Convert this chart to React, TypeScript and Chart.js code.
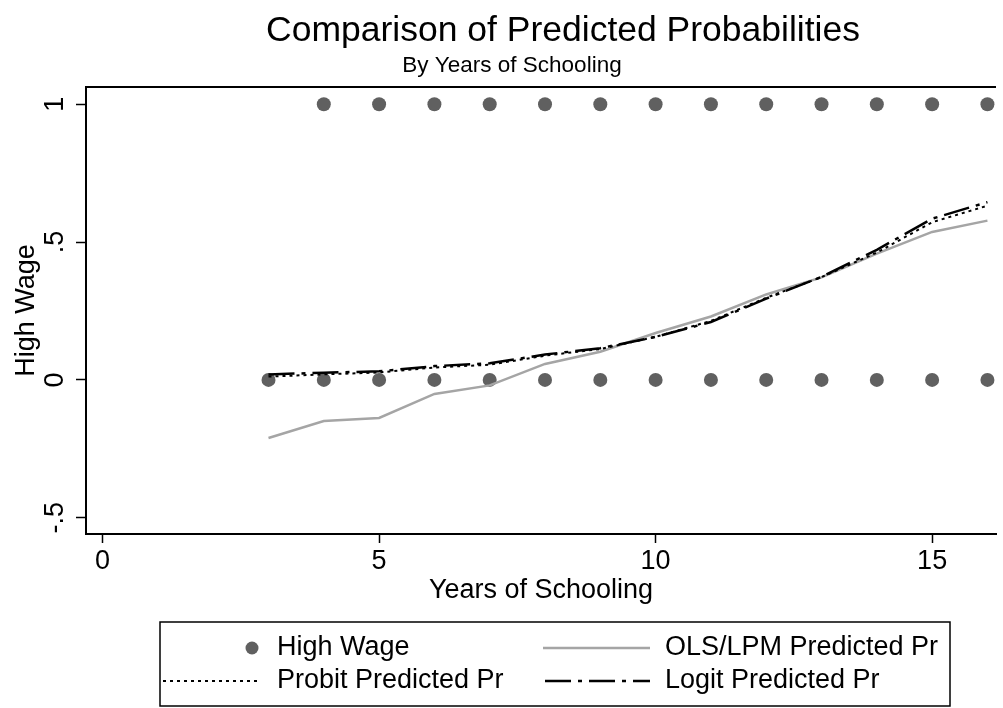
import React, { useEffect, useRef } from "react";
import { Chart, registerables } from "chart.js";

Chart.register(...registerables);

// ---------------- data ----------------
const schoolingYears = [3, 4, 5, 6, 7, 8, 9, 10, 11, 12, 13, 14, 15, 16];
const highWageOneYears = [4, 5, 6, 7, 8, 9, 10, 11, 12, 13, 14, 15, 16];
const highWageZeroYears = [3, 4, 5, 6, 7, 8, 9, 10, 11, 12, 13, 14, 15, 16];
const olsPredicted = [-0.211, -0.149, -0.138, -0.051, -0.02, 0.058, 0.102, 0.17, 0.23, 0.31, 0.372, 0.458, 0.537, 0.578];
const probitPredicted = [0.012, 0.02, 0.027, 0.045, 0.055, 0.088, 0.112, 0.156, 0.214, 0.298, 0.373, 0.462, 0.572, 0.632];
const logitPredicted = [0.02, 0.026, 0.031, 0.05, 0.06, 0.092, 0.115, 0.156, 0.21, 0.295, 0.374, 0.472, 0.585, 0.645];

const xTickValues = [0, 5, 10, 15];
const xTickLabels = ["0", "5", "10", "15"];
const yTickValues = [-0.5, 0, 0.5, 1];
const yTickLabels = ["-.5", "0", ".5", "1"];

const titleText = "Comparison of Predicted Probabilities";
const subtitleText = "By Years of Schooling";
const xAxisTitle = "Years of Schooling";
const yAxisTitle = "High Wage";
const seriesNames = ["High Wage", "OLS/LPM Predicted Pr", "Probit Predicted Pr", "Logit Predicted Pr"];

// ---------------- styles ----------------
const FONT = "'Liberation Sans', Arial, Helvetica, sans-serif";
const AXIS_FONT_SIZE = 27;
const DOT_COLOR = "rgb(96,96,96)";
const OLS_COLOR = "rgb(165,165,165)";
const PROBIT_DASH = [3, 4];
const LOGIT_DASH = [26, 7, 4, 7];

const W = 1003;
const H = 708;

const decorPlugin = {
  id: "decor",
  afterDraw(chart: any) {
    const ctx = chart.ctx as CanvasRenderingContext2D;
    const area = chart.chartArea;
    ctx.save();
    // top frame line
    ctx.strokeStyle = "#000";
    ctx.lineWidth = 2;
    ctx.beginPath();
    ctx.moveTo(area.left - 1, area.top);
    ctx.lineTo(area.right, area.top);
    ctx.stroke();

    // title & subtitle
    ctx.fillStyle = "#000";
    ctx.textAlign = "center";
    ctx.textBaseline = "alphabetic";
    ctx.font = `35.5px ${FONT}`;
    ctx.fillText(titleText, 563, 41);
    ctx.font = `22.5px ${FONT}`;
    ctx.fillText(subtitleText, 512, 72);

    // legend
    const bx = 160, by = 622, bw = 790, bh = 84;
    ctx.lineWidth = 1.5;
    ctx.strokeStyle = "#000";
    ctx.strokeRect(bx, by, bw, bh);
    const row1 = 648;
    const row2 = 681;
    const textX1 = 277;
    const textX2 = 665;
    // dot
    ctx.fillStyle = DOT_COLOR;
    ctx.beginPath();
    ctx.arc(252, row1, 6.5, 0, Math.PI * 2);
    ctx.fill();
    // ols line
    ctx.strokeStyle = OLS_COLOR;
    ctx.lineWidth = 2.5;
    ctx.setLineDash([]);
    ctx.beginPath();
    ctx.moveTo(543, row1);
    ctx.lineTo(650, row1);
    ctx.stroke();
    // probit
    ctx.strokeStyle = "#000";
    ctx.lineWidth = 2;
    ctx.setLineDash(PROBIT_DASH);
    ctx.beginPath();
    ctx.moveTo(163, row2);
    ctx.lineTo(257, row2);
    ctx.stroke();
    // logit
    ctx.setLineDash(LOGIT_DASH);
    ctx.lineWidth = 2.5;
    ctx.beginPath();
    ctx.moveTo(545, row2);
    ctx.lineTo(650, row2);
    ctx.stroke();
    ctx.setLineDash([]);

    ctx.fillStyle = "#000";
    ctx.textAlign = "left";
    ctx.textBaseline = "middle";
    ctx.font = `${AXIS_FONT_SIZE}px ${FONT}`;
    ctx.fillText(seriesNames[0], textX1, row1);
    ctx.fillText(seriesNames[1], textX2, row1);
    ctx.fillText(seriesNames[2], textX1, row2);
    ctx.fillText(seriesNames[3], textX2, row2);
    ctx.restore();
  },
};

export default function App() {
  const canvasRef = useRef<HTMLCanvasElement | null>(null);

  useEffect(() => {
    const canvas = canvasRef.current;
    if (!canvas) return;

    const dotData = [
      ...highWageOneYears.map((x) => ({ x, y: 1 })),
      ...highWageZeroYears.map((x) => ({ x, y: 0 })),
    ];
    const toXY = (arr: number[]) => schoolingYears.map((x, i) => ({ x, y: arr[i] }));

    const chart = new Chart(canvas, {
      type: "scatter",
      data: {
        datasets: [
          {
            type: "scatter",
            label: seriesNames[0],
            data: dotData,
            backgroundColor: DOT_COLOR,
            borderWidth: 0,
            pointRadius: 7,
            order: 3,
          },
          {
            type: "line",
            label: seriesNames[1],
            data: toXY(olsPredicted),
            borderColor: OLS_COLOR,
            borderWidth: 2.5,
            pointRadius: 0,
            fill: false,
            tension: 0,
            order: 2,
          },
          {
            type: "line",
            label: seriesNames[2],
            data: toXY(probitPredicted),
            borderColor: "#000",
            borderWidth: 2,
            borderDash: PROBIT_DASH,
            pointRadius: 0,
            fill: false,
            tension: 0,
            order: 1,
          },
          {
            type: "line",
            label: seriesNames[3],
            data: toXY(logitPredicted),
            borderColor: "#000",
            borderWidth: 2.5,
            borderDash: LOGIT_DASH,
            pointRadius: 0,
            fill: false,
            tension: 0,
            order: 0,
          },
        ] as any,
      },
      options: {
        animation: false,
        responsive: false,
        maintainAspectRatio: false,
        layout: { padding: { left: 0, top: 87, right: 0, bottom: 99 } },
        plugins: {
          legend: { display: false },
          tooltip: { enabled: false },
          title: { display: false },
        },
        scales: {
          x: {
            type: "linear",
            min: -0.3,
            max: 16.155,
            afterBuildTicks: (s: any) => {
              s.ticks = xTickValues.map((v) => ({ value: v }));
            },
            afterFit: (s: any) => {
              s.height = 75;
            },
            ticks: {
              autoSkip: false,
              maxRotation: 0,
              minRotation: 0,
              padding: 2,
              color: "#000",
              font: { family: FONT, size: AXIS_FONT_SIZE },
              callback: (v: any) => {
                const i = xTickValues.indexOf(Number(v));
                return i >= 0 ? xTickLabels[i] : "";
              },
            },
            grid: {
              drawOnChartArea: false,
              drawTicks: true,
              tickLength: 9,
              tickWidth: 1.5,
              tickColor: "#000",
            },
            border: { display: true, color: "#000", width: 2 },
            title: {
              display: true,
              text: xAxisTitle,
              color: "#000",
              font: { family: FONT, size: AXIS_FONT_SIZE },
              padding: { top: 0, bottom: 2 },
            },
          },
          y: {
            type: "linear",
            min: -0.5592,
            max: 1.0628,
            afterBuildTicks: (s: any) => {
              s.ticks = yTickValues.map((v) => ({ value: v }));
            },
            afterFit: (s: any) => {
              s.width = 86;
            },
            ticks: {
              autoSkip: false,
              minRotation: 90,
              maxRotation: 90,
              crossAlign: "center",
              padding: 5,
              color: "#000",
              font: { family: FONT, size: AXIS_FONT_SIZE },
              callback: (v: any) => {
                const i = yTickValues.indexOf(Number(v));
                return i >= 0 ? yTickLabels[i] : "";
              },
            },
            grid: {
              drawOnChartArea: false,
              drawTicks: true,
              tickLength: 10,
              tickWidth: 1.5,
              tickColor: "#000",
            },
            border: { display: true, color: "#000", width: 2 },
            title: {
              display: true,
              text: yAxisTitle,
              color: "#000",
              font: { family: FONT, size: AXIS_FONT_SIZE },
              padding: { top: 10, bottom: 0 },
            },
          },
        },
      },
      plugins: [decorPlugin],
    });

    return () => chart.destroy();
  }, []);

  return (
    <div style={{ position: "fixed", left: 0, top: 0, width: W, height: H, background: "#fff" }}>
      <canvas ref={canvasRef} width={W} height={H} style={{ display: "block" }} />
    </div>
  );
}
